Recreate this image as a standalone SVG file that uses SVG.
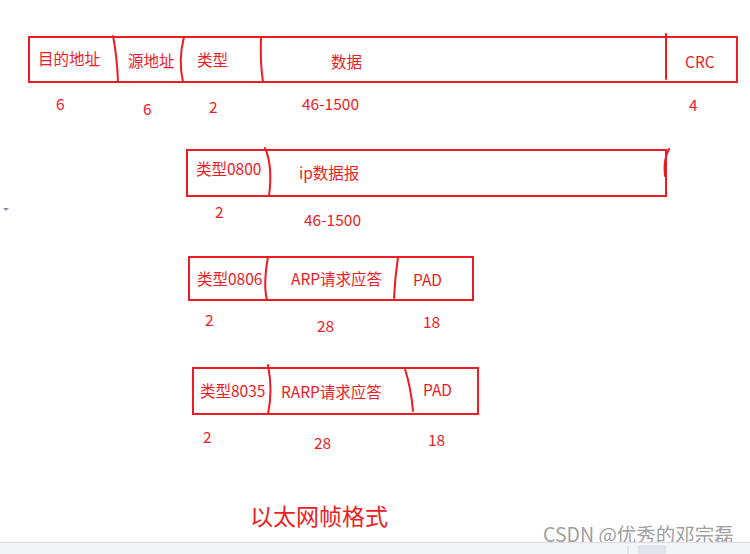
<svg xmlns="http://www.w3.org/2000/svg" width="750" height="554" viewBox="0 0 750 554">
<style>
.box{fill:none;stroke:#ec1c24;stroke-width:2}
.div{fill:none;stroke:#ec1c24;stroke-width:2;stroke-linecap:round}
text{font-family:"Noto Sans CJK SC","Noto Sans",sans-serif;fill:#ec1c24;font-size:15.5px}
.t{font-size:23px}
.wm{fill:#a0a0a0;font-size:19.5px}
</style>
<rect width="750" height="554" fill="#ffffff"/>
<g id="frame-ethernet">
<rect class="box" x="29" y="37" width="708" height="45"/>
<text x="38" y="65">目的地址</text>
<text x="128" y="67">源地址</text>
<text x="197" y="66">类型</text>
<text x="331" y="68">数据</text>
<text x="685" y="68">CRC</text>
<text x="56" y="110">6</text>
<text x="143" y="115">6</text>
<text x="209" y="113">2</text>
<text x="302" y="110">46-1500</text>
<text x="689" y="111">4</text>
</g>
<g id="frame-ip">
<rect class="box" x="187" y="150" width="479" height="46"/>
<text x="196" y="175">类型0800</text>
<text x="299" y="179">ip数据报</text>
<text x="215" y="218">2</text>
<text x="304" y="226">46-1500</text>
</g>
<g id="frame-arp">
<rect class="box" x="189" y="257" width="284" height="43"/>
<text x="197" y="285">类型0806</text>
<text x="291" y="285">ARP请求应答</text>
<text x="413" y="286">PAD</text>
<text x="205" y="326">2</text>
<text x="317" y="332">28</text>
<text x="423" y="328">18</text>
</g>
<g id="frame-rarp">
<rect class="box" x="193" y="368" width="285" height="46"/>
<text x="200" y="397">类型8035</text>
<text x="281" y="398">RARP请求应答</text>
<text x="423" y="396">PAD</text>
<text x="203" y="443">2</text>
<text x="314" y="449">28</text>
<text x="428" y="446">18</text>
</g>
<g id="connectors">
<path class="div" d="M113,36 Q117,56 118,82"/>
<path class="div" d="M184,37 Q178,60 183,82"/>
<path class="div" d="M261,37 Q260,62 263,82"/>
<path class="div" d="M666,34 L666,79"/>
<path class="div" d="M265,148 Q273,166 269,196"/>
<path class="div" d="M669,149 Q663,160 665,176"/>
<path class="div" d="M268,257 Q263,285 267,300"/>
<path class="div" d="M398,257 Q395,278 394,298"/>
<path class="div" d="M268,365 Q273,390 268,414"/>
<path class="div" d="M405,369 Q411,388 413,411"/>
</g>
<text class="t" x="250" y="525">以太网帧格式</text>
<text class="wm" x="543" y="542">CSDN @优秀的邓宗磊</text>
<polygon points="3,208 9,208 6,211" fill="#8890b0"/>
<rect x="0" y="542" width="750" height="12" fill="#f3f4f7"/>
<line x1="0" y1="542.5" x2="750" y2="542.5" stroke="#dcdde3" stroke-width="1"/>
<rect x="638" y="545" width="28" height="9" fill="#e2e5ec"/>
<line x1="628" y1="546" x2="628" y2="554" stroke="#cfd2d8" stroke-width="1"/>
</svg>
